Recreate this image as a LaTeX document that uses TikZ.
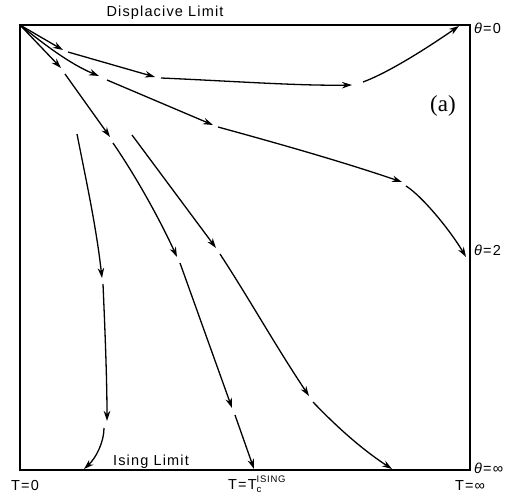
\documentclass[tikz,border=0pt]{standalone}
\usepackage{fontspec}
\setmainfont{Liberation Sans}
\newfontfamily\lbl[LetterSpace=8]{Liberation Sans}
\newfontfamily\panelfont{Liberation Serif}
\usetikzlibrary{arrows.meta}

\begin{document}
\begin{tikzpicture}[x=1pt, y=-1pt,
  flow/.style={-{Stealth[length=10pt,width=6.5pt]}, line width=1.3pt},
  lab/.style={font=\lbl\fontsize{14.5}{16}\selectfont, inner sep=0pt}]
  \useasboundingbox (0,0) rectangle (505,495);
  % --- frame and labels ---
  \draw[line width=1.3pt] (20,25) rectangle (470,470);
  \coordinate (O) at (20,25);
  \node[lab] (disp) at (165,13) {Displacive Limit};
  \node[lab] (ising) at (151,462) {Ising Limit};
  \node[lab, anchor=west] (th0) at (474,28) {\textit{θ}=0};
  \node[lab, anchor=west] (th2) at (474,250) {\textit{θ}=2};
  \node[lab, anchor=west] (thinf) at (474,468) {\textit{θ}=∞};
  \node[lab] (t0) at (25,486) {T=0};
  \node[lab, anchor=west] (tc) at (228,484)
    {T=T\rlap{\raisebox{-2.5pt}{\fontsize{9.5}{10}\selectfont c}}\raisebox{7pt}{\fontsize{9.5}{10}\selectfont ISING}};
  \node[lab] (tinf) at (470,486) {T=∞};
  \node[font=\panelfont\fontsize{23}{25}\selectfont, inner sep=0pt] (pa) at (443,106) {(a)};

  % --- flow to theta=0 ---
  \path (63,50) coordinate (a1) (68,52) coordinate (a2) (155,77) coordinate (a3)
        (161,78) coordinate (a4) (352,85) coordinate (a5) (363,82) coordinate (a6)
        (459,26) coordinate (a7);
  \draw[flow] (O) -- (a1);
  \draw[flow] (a2) -- (a3);
  \draw[flow] (a4) .. controls (230,81) and (300,86) .. (a5);
  \draw[flow] (a6) .. controls (390,72) and (430,46) .. (a7);

  % --- flow to theta=2 ---
  \path (99,76) coordinate (b1) (107,80) coordinate (b2) (213,125) coordinate (b3)
        (218,127) coordinate (b4) (402,182) coordinate (b5) (406,186) coordinate (b6)
        (466,257) coordinate (b7);
  \draw[flow] (O) .. controls (45,45) and (70,64) .. (b1);
  \draw[flow] (b2) -- (b3);
  \draw[flow] (b4) .. controls (280,144) and (340,161) .. (b5);
  \draw[flow] (b6) .. controls (422,196) and (450,230) .. (b7);

  % --- flow to T_c ---
  \path (61,68) coordinate (c1) (65,74) coordinate (c2) (110,137) coordinate (c3)
        (113,143) coordinate (c4) (177,257) coordinate (c5) (180,263) coordinate (c6)
        (232,408) coordinate (c7) (235,415) coordinate (c8) (254,469) coordinate (c9);
  \draw[flow] (O) -- (c1);
  \draw[flow] (c2) -- (c3);
  \draw[flow] (c4) .. controls (137,178) and (160,220) .. (c5);
  \draw[flow] (c6) -- (c7);
  \draw[flow] (c8) -- (c9);

  % --- flow to T=0 side ---
  \path (77,134) coordinate (d0) (102,278) coordinate (d1) (103,284) coordinate (d2)
        (107,421) coordinate (d3) (104,428) coordinate (d4) (84,469) coordinate (d5);
  \draw[flow] (d0) .. controls (86,180) and (96,225) .. (d1);
  \draw[flow] (d2) .. controls (105,330) and (107,380) .. (d3);
  \draw[flow] (d4) .. controls (104,442) and (96,458) .. (d5);

  % --- flow to T=infinity side ---
  \path (132,135) coordinate (e0) (216,248) coordinate (e1) (220,254) coordinate (e2)
        (309,396) coordinate (e3) (313,402) coordinate (e4) (392,469) coordinate (e5);
  \draw[flow] (e0) -- (e1);
  \draw[flow] (e2) .. controls (250,300) and (275,345) .. (e3);
  \draw[flow] (e4) .. controls (335,425) and (360,448) .. (e5);
\end{tikzpicture}
\end{document}
